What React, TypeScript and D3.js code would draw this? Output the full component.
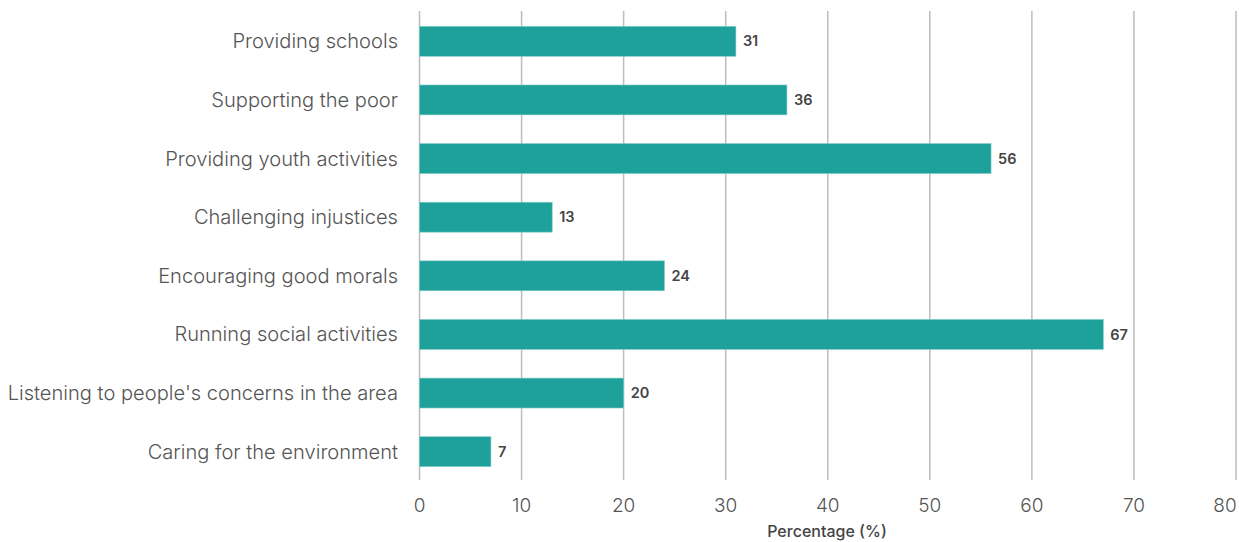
import React from "react";
import * as d3 from "d3";

const categories = [
  "Providing schools",
  "Supporting the poor",
  "Providing youth activities",
  "Challenging injustices",
  "Encouraging good morals",
  "Running social activities",
  "Listening to people's concerns in the area",
  "Caring for the environment",
];
const values = [31, 36, 56, 13, 24, 67, 20, 7];
const xTicks = [0, 10, 20, 30, 40, 50, 60, 70, 80];
const xTitle = "Percentage (%)";

const W = 1239;
const H = 542;
const FONT = "Inter, 'Noto Sans', sans-serif";

export default function App() {
  const x = d3.scaleLinear().domain([0, 80]).range([419.5, 1236]);
  const y = d3.scaleBand<string>().domain(categories).range([12, 481]).paddingInner(0.49).paddingOuter(0.245);
  return (
    <svg width={W} height={H} style={{ position: "absolute", left: 0, top: 0, display: "block" }}>
      <rect width={W} height={H} fill="#fff" />
      {xTicks.map((t) => (
        <line key={"g" + t} x1={x(t)} x2={x(t)} y1={11} y2={480} stroke="#bdbdbd" strokeWidth={1.5} />
      ))}
      {categories.map((c, i) => (
        <g key={c}>
          <rect
            x={x(0)}
            y={y(c)!}
            width={x(values[i]) - x(0)}
            height={y.bandwidth()}
            fill="#1fa19b"
            stroke="#7fcac6"
            strokeWidth={0.6}
          />
          <text
            x={x(values[i]) + 7}
            y={y(c)! + y.bandwidth() / 2}
            dy="0.35em"
            fontFamily={FONT}
            fontSize={14.5}
            fontWeight={600}
            fill="#444"
          >
            {values[i]}
          </text>
          <text
            x={398}
            y={y(c)! + y.bandwidth() / 2}
            dy="0.35em"
            textAnchor="end"
            fontFamily={FONT}
            fontSize={20.1}
            fontWeight={300}
            fill="#555"
          >
            {c}
          </text>
        </g>
      ))}
      {xTicks.map((t) => (
        <text
          key={"t" + t}
          x={t === 80 ? Math.min(x(t), 1225) : x(t)}
          y={505}
          dy="0.35em"
          textAnchor="middle"
          fontFamily={FONT}
          fontSize={19}
          fontWeight={300}
          fill="#555"
        >
          {t}
        </text>
      ))}
      <text x={827} y={531} dy="0.35em" textAnchor="middle" fontFamily={FONT} fontSize={16} fontWeight={500} fill="#444">
        {xTitle}
      </text>
    </svg>
  );
}
